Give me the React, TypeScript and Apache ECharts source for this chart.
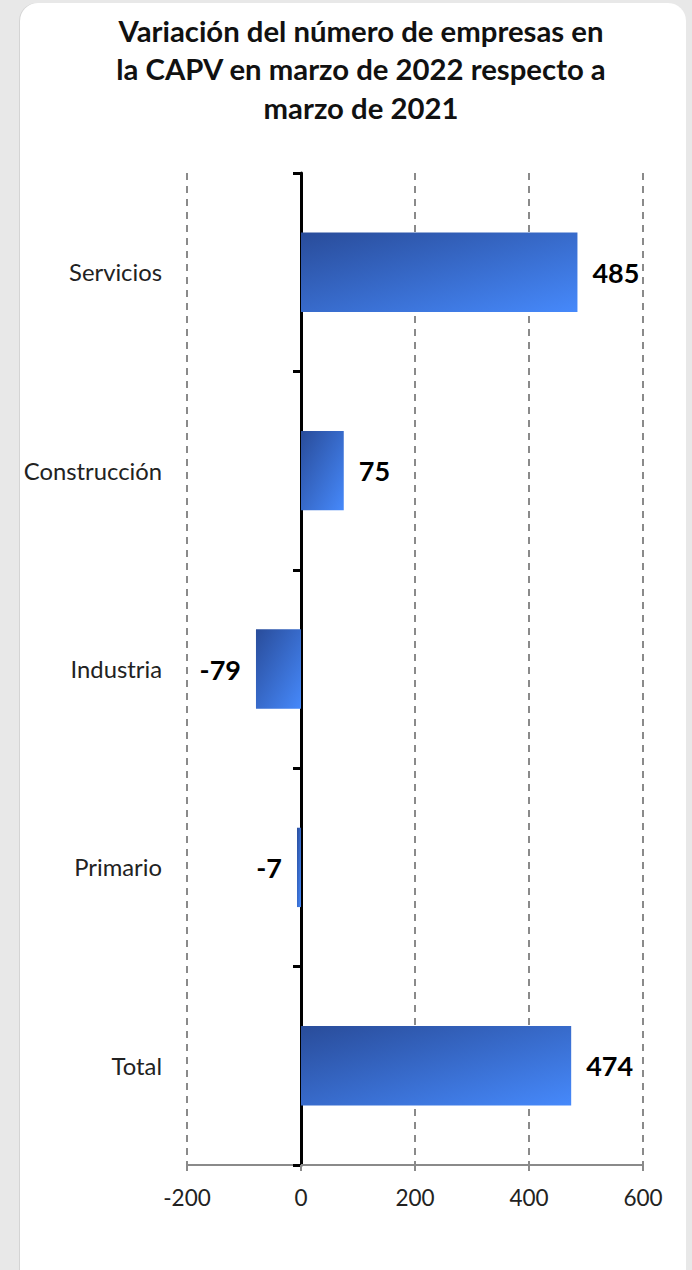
import React, { useEffect, useRef } from "react";
import * as echarts from "echarts";

const titleLines = [
  "Variación del número de empresas en",
  "la CAPV en marzo de 2022 respecto a",
  "marzo de 2021",
];
const categories = ["Servicios", "Construcción", "Industria", "Primario", "Total"];
const values = [485, 75, -79, -7, 474];
const xMin = -200;
const xMax = 600;
const xInterval = 200;

const FONT = "Lato, 'Open Sans', sans-serif";

export default function App() {
  const ref = useRef<HTMLDivElement>(null);

  useEffect(() => {
    if (!ref.current) return;
    const chart = echarts.init(ref.current, undefined, { renderer: "svg" });
    const barColor = new echarts.graphic.LinearGradient(0, 0, 1, 1, [
      { offset: 0, color: "#294c9a" },
      { offset: 1, color: "#4689fb" },
    ]);
    chart.setOption({
      animation: false,
      title: {
        text: titleLines.join("\n"),
        left: 361,
        top: 11,
        padding: 0,
        textAlign: "center",
        textStyle: {
          fontFamily: FONT,
          fontWeight: "bold",
          fontSize: 29.3,
          lineHeight: 38.5,
          color: "#111",
        },
      },
      grid: { left: 187, right: 49, top: 173, height: 992, containLabel: false },
      xAxis: {
        type: "value",
        min: xMin,
        max: xMax,
        interval: xInterval,
        axisLine: { show: true, lineStyle: { color: "#8a8a8a", width: 2 } },
        axisTick: { show: true, length: 6, lineStyle: { color: "#8a8a8a", width: 2 } },
        splitLine: {
          show: true,
          lineStyle: { color: "#8a8a8a", width: 2, type: [7, 6] },
        },
        axisLabel: {
          margin: 21,
          fontFamily: FONT,
          fontSize: 22.5,
          color: "#222",
        },
      },
      yAxis: [
        {
          type: "category",
          data: categories,
          inverse: true,
          position: "left",
          axisLine: { show: false, onZero: false },
          axisTick: { show: false },
          splitLine: { show: false },
          axisLabel: {
            margin: 25,
            fontFamily: FONT,
            fontSize: 23.8,
            color: "#222",
          },
        },
        {
          type: "category",
          data: categories,
          inverse: true,
          position: "left",
          axisLine: { show: true, onZero: true, lineStyle: { color: "#000", width: 3 } },
          axisTick: { show: true, length: 8, lineStyle: { color: "#000", width: 3 } },
          splitLine: { show: false },
          axisLabel: { show: false },
        },
      ],
      series: [
        {
          type: "bar",
          yAxisIndex: 0,
          barWidth: "40%",
          z: 1,
          data: values.map((v) => ({
            value: v,
            label: { position: v < 0 ? "left" : "right" },
          })),
          itemStyle: { color: barColor },
          label: {
            show: true,
            distance: 15,
            fontFamily: FONT,
            fontWeight: "bold",
            fontSize: 27,
            color: "#000",
          },
        },
      ],
    });
    return () => chart.dispose();
  }, []);

  return (
    <div
      style={{
        position: "fixed",
        left: 0,
        top: 0,
        width: 692,
        height: 1270,
        background: "#e8e8e8",
        overflow: "hidden",
      }}
    >
      <div
        style={{
          position: "absolute",
          left: 20,
          top: 3,
          width: 666,
          height: 1290,
          background: "#fff",
          borderRadius: 18,
          boxShadow: "-1px 0 0 #d4d4d4",
        }}
      />
      <div
        ref={ref}
        style={{ position: "absolute", left: 0, top: 0, width: 692, height: 1270 }}
      />
    </div>
  );
}
